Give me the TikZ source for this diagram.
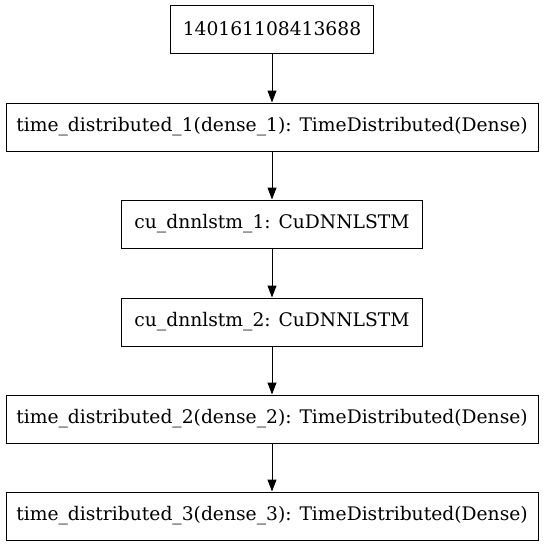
\documentclass[tikz,border=0pt]{standalone}
\usepackage{fontspec}
\setmainfont{DejaVu Serif}
\usetikzlibrary{arrows.meta}
\begin{document}
\begin{tikzpicture}[x=1pt,y=-1pt,
  layer/.style={draw, line width=1pt, rectangle, minimum height=48pt, inner sep=0pt, font=\fontsize{18.7}{22}\selectfont},
  edge/.style={-{Triangle[length=12pt,width=9pt]}, line width=1pt}]
\useasboundingbox (0,0) rectangle (547,547);
\node[layer, minimum width=203pt] (n0) at (272,29) {140161108413688};
\node[layer, minimum width=532pt] (n1) at (272,127) {time\_distributed\_1(dense\_1): TimeDistributed(Dense)};
\node[layer, minimum width=301pt] (n2) at (272,224) {cu\_dnnlstm\_1: CuDNNLSTM};
\node[layer, minimum width=301pt] (n3) at (272,322) {cu\_dnnlstm\_2: CuDNNLSTM};
\node[layer, minimum width=532pt] (n4) at (272,419) {time\_distributed\_2(dense\_2): TimeDistributed(Dense)};
\node[layer, minimum width=532pt] (n5) at (272,516) {time\_distributed\_3(dense\_3): TimeDistributed(Dense)};
\draw[edge] (n0) -- (n1);
\draw[edge] (n1) -- (n2);
\draw[edge] (n2) -- (n3);
\draw[edge] (n3) -- (n4);
\draw[edge] (n4) -- (n5);
\end{tikzpicture}
\end{document}
